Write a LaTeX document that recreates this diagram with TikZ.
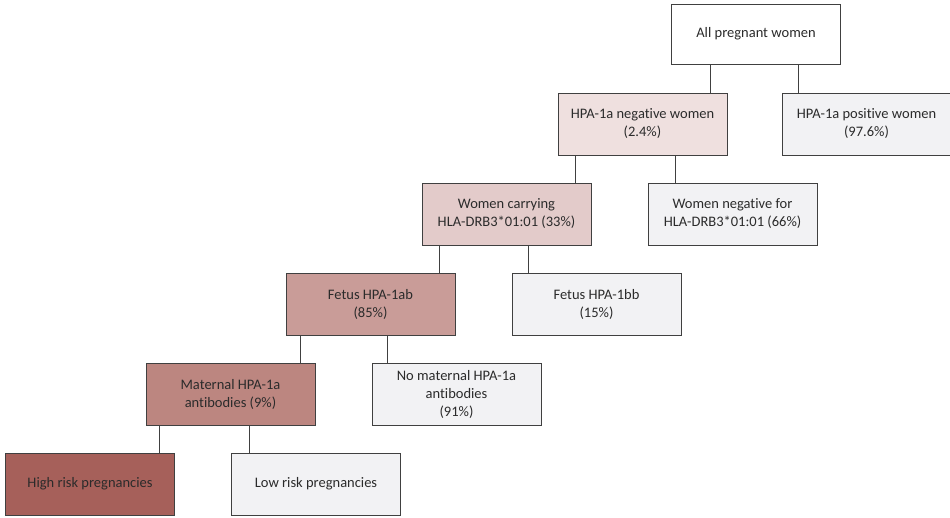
\documentclass[tikz,border=0pt]{standalone}
\usepackage{fontspec}
\setmainfont[Ligatures=NoCommon]{Carlito}
\tikzset{box/.style={rectangle,draw=boxline,line width=0.8pt,minimum width=169pt,minimum height=62pt,align=center,font=\fontsize{14.5}{18}\selectfont,text=boxtext}}
\definecolor{boxline}{HTML}{404040}
\definecolor{boxtext}{HTML}{2B2B2B}
\definecolor{greybox}{HTML}{F2F2F4}
\definecolor{pinkA}{HTML}{EFE0DF}
\definecolor{pinkB}{HTML}{E3CBCA}
\definecolor{pinkC}{HTML}{C99C98}
\definecolor{pinkD}{HTML}{BC8680}
\definecolor{pinkE}{HTML}{A6605A}

\begin{document}
\begin{tikzpicture}[x=1pt,y=-1pt,
            link/.style={draw=boxline,line width=0.8pt}
            ]
            \useasboundingbox (0,0) rectangle (950,517);
            % top of the tree
            \node[box,fill=white,minimum height=60pt] (all) at (756,34) {All pregnant women};
            \node[box,fill=pinkA] (neg) at (642.5,124) {HPA-1a negative women\\(2.4\%)};
            \node[box,fill=greybox] (pos) at (866.5,124) {HPA-1a positive women\\(97.6\%)};
            % HLA type
            \node[box,fill=pinkB] (carry) at (506.5,214) {Women carrying\\HLA-DRB3*01:01 (33\%)};
            \node[box,fill=greybox] (nocarry) at (732.5,214) {Women negative for\\HLA-DRB3*01:01 (66\%)};
            % fetus
            \node[box,fill=pinkC] (fetab) at (370.5,304) {Fetus HPA-1ab\\(85\%)};
            \node[box,fill=greybox] (fetbb) at (596.5,304) {Fetus HPA-1bb\\(15\%)};
            % antibodies
            \node[box,fill=pinkD] (anti) at (230.5,394) {Maternal HPA-1a\\antibodies (9\%)};
            \node[box,fill=greybox] (noanti) at (456.5,394) {No maternal HPA-1a\\antibodies\\(91\%)};
            % outcome
            \node[box,fill=pinkE] (high) at (90,484) {High risk pregnancies};
            \node[box,fill=greybox] (low) at (316,484) {Low risk pregnancies};

            \path[link] ([xshift=-17pt]neg.north east) -- ([xshift=-17pt]neg.north east |- all.south);
            \path[link] ([xshift=17pt]pos.north west) -- ([xshift=17pt]pos.north west |- all.south);
            \path[link] ([xshift=-16pt]carry.north east) -- ([xshift=-16pt]carry.north east |- neg.south);
            \path[link] ([xshift=28pt]nocarry.north west) -- ([xshift=28pt]nocarry.north west |- neg.south);
            \path[link] ([xshift=-16pt]fetab.north east) -- ([xshift=-16pt]fetab.north east |- carry.south);
            \path[link] ([xshift=17pt]fetbb.north west) -- ([xshift=17pt]fetbb.north west |- carry.south);
            \path[link] ([xshift=-15pt]anti.north east) -- ([xshift=-15pt]anti.north east |- fetab.south);
            \path[link] ([xshift=16pt]noanti.north west) -- ([xshift=16pt]noanti.north west |- fetab.south);
            \path[link] ([xshift=-16pt]high.north east) -- ([xshift=-16pt]high.north east |- anti.south);
            \path[link] ([xshift=18pt]low.north west) -- ([xshift=18pt]low.north west |- anti.south);
        \end{tikzpicture}
\end{document}
